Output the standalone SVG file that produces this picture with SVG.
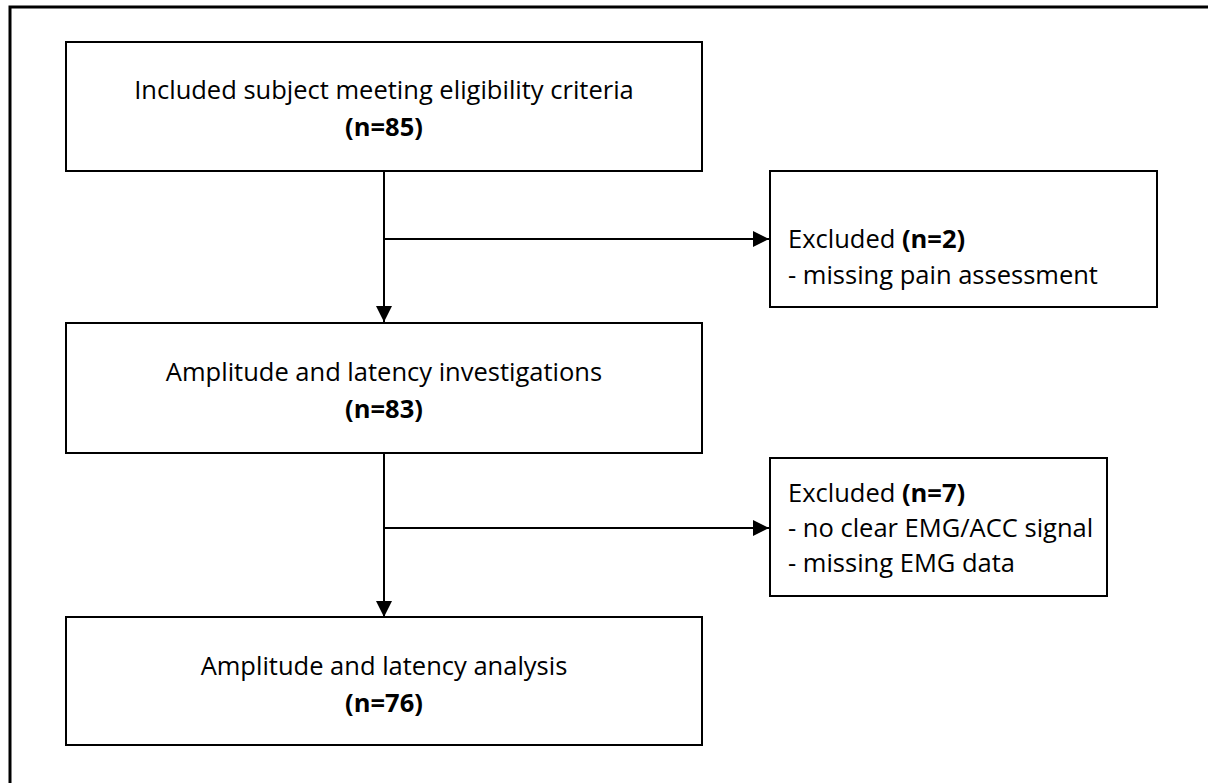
<svg xmlns="http://www.w3.org/2000/svg" width="1208" height="783" viewBox="0 0 1208 783">
  <style>
    .frame { fill: none; stroke: #000; stroke-width: 3; }
    .box { fill: #fff; stroke: #000; stroke-width: 2; }
    .line { fill: none; stroke: #000; stroke-width: 2; }
    text { font-family: "Open Sans", "Noto Sans", sans-serif; font-size: 25.5px; fill: #000; }
    .c { text-anchor: middle; }
    .b { font-weight: bold; }
  </style>
  <defs>
    <marker id="arrow" markerUnits="userSpaceOnUse" markerWidth="16" markerHeight="16" refX="16" refY="8" orient="auto">
      <path d="M0,0 L16,8 L0,16 Z" fill="#000"/>
    </marker>
  </defs>

  <rect width="1208" height="783" fill="#fff"/>
  <!-- outer frame: only its top and left sides fall inside the page -->
  <path class="frame" d="M10,790 L10,7 L1215,7"/>

  <g id="connectors">
    <line class="line" x1="384" y1="171" x2="384" y2="322" marker-end="url(#arrow)"/>
    <line class="line" x1="385" y1="239" x2="769" y2="239" marker-end="url(#arrow)"/>
    <line class="line" x1="384" y1="453" x2="384" y2="617" marker-end="url(#arrow)"/>
    <line class="line" x1="385" y1="528" x2="769" y2="528" marker-end="url(#arrow)"/>
  </g>

  <g id="included">
    <rect class="box" x="66" y="42" width="636" height="129"/>
    <text class="c" x="384" y="99">Included subject meeting eligibility criteria</text>
    <text class="c b" x="384" y="136">(n=85)</text>
  </g>

  <g id="excluded-1">
    <rect class="box" x="770" y="171" width="387" height="136"/>
    <text x="788" y="248">Excluded <tspan class="b">(n=2)</tspan></text>
    <text x="788" y="284">- missing pain assessment</text>
  </g>

  <g id="investigations">
    <rect class="box" x="66" y="323" width="636" height="130"/>
    <text class="c" x="384" y="381">Amplitude and latency investigations</text>
    <text class="c b" x="384" y="418">(n=83)</text>
  </g>

  <g id="excluded-2">
    <rect class="box" x="770" y="458" width="337" height="138"/>
    <text x="788" y="502">Excluded <tspan class="b">(n=7)</tspan></text>
    <text x="788" y="537">- no clear EMG/ACC signal</text>
    <text x="788" y="572">- missing EMG data</text>
  </g>

  <g id="analysis">
    <rect class="box" x="66" y="617" width="636" height="128"/>
    <text class="c" x="384" y="675">Amplitude and latency analysis</text>
    <text class="c b" x="384" y="712">(n=76)</text>
  </g>
</svg>
